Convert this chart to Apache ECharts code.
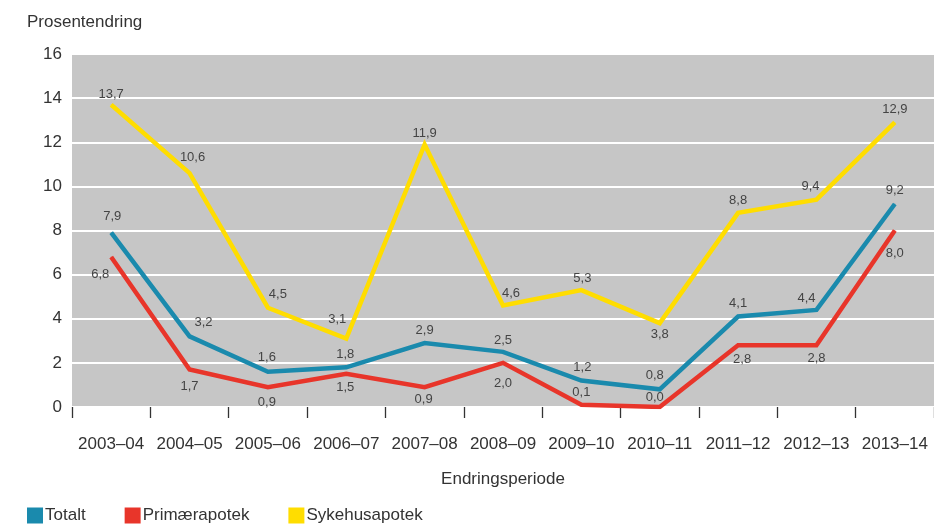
<!DOCTYPE html>
<html>
<head>
<meta charset="utf-8">
<script src="https://cdn.jsdelivr.net/npm/echarts@6/dist/echarts.min.js"></script>
<style>html,body{margin:0;padding:0;background:#fff;}#c{width:934px;height:524px;}</style>
</head>
<body>
<div id="c"></div>
<script>
const categories = ['2003–04','2004–05','2005–06','2006–07','2007–08','2008–09','2009–10','2010–11','2011–12','2012–13','2013–14'];
const totalt = [7.9, 3.2, 1.6, 1.8, 2.9, 2.5, 1.2, 0.8, 4.1, 4.4, 9.2];
const primaer = [6.8, 1.7, 0.9, 1.5, 0.9, 2.0, 0.1, 0.0, 2.8, 2.8, 8.0];
const sykehus = [13.7, 10.6, 4.5, 3.1, 11.9, 4.6, 5.3, 3.8, 8.8, 9.4, 12.9];
const yTicks = [0, 2, 4, 6, 8, 10, 12, 14, 16];

// label offsets (style only)
const offTot = [[1,-16],[14,-14],[-1,-14],[-1,-13],[0,-13],[0,-11],[1,-13],[-5,-14],[0,-13],[-10,-12],[0,-14]];
const offPri = [[-11,17],[0,17],[-1,15],[-1,14],[-1,12],[0,21],[0,-12],[-5,-10],[4,14],[0,13],[0,23]];
const offSyk = [[0,-10],[3,-16],[10,-13],[-9,-19],[0,-11],[8,-12],[1,-12],[0,11],[0,-12],[-6,-13],[0,-13]];

const FONT = 'Liberation Sans';
const fmt = v => v.toFixed(1).replace('.', ',');

function mk(name, arr, offs, color) {
  return {
    name: name, type: 'line', data: arr.map((v, i) => ({
      value: v,
      label: { show: true, position: 'inside', offset: offs[i], formatter: fmt(v),
        color: '#444', fontSize: 13, fontFamily: FONT }
    })),
    symbol: 'circle', symbolSize: 1, showSymbol: true,
    lineStyle: { color: color, width: 4.5, join: 'miter' },
    itemStyle: { color: color },
    emphasis: { disabled: true },
    animation: false, z: 3
  };
}

const chart = echarts.init(document.getElementById('c'), null, { renderer: 'canvas' });
chart.setOption({
  animation: false,
  textStyle: { fontFamily: FONT },
  title: { text: 'Prosentendring', left: 22, top: 9,
    textStyle: { fontSize: 17, fontWeight: 'normal', color: '#333', fontFamily: FONT } },
  grid: { left: 72, right: -2, top: 54, bottom: 117, show: true, backgroundColor: '#c6c6c6', borderWidth: 0 },
  legend: {
    left: 22, top: 502, itemWidth: 16, itemHeight: 16, itemGap: 39, icon: 'rect',
    textStyle: { fontSize: 17, color: '#333', fontFamily: FONT, padding: [0,0,0,-3] },
    data: ['Totalt', 'Primærapotek', 'Sykehusapotek'], selectedMode: false
  },
  xAxis: {
    type: 'category', data: categories, boundaryGap: true,
    name: 'Endringsperiode', nameLocation: 'middle', nameGap: 64,
    nameTextStyle: { fontSize: 17, color: '#333', fontFamily: FONT },
    axisLine: { show: false },
    axisTick: { show: true, length: 11, interval: 0, lineStyle: { color: '#333', width: 1.3 } },
    axisLabel: { margin: 29, interval: 0, fontSize: 17, color: '#333', fontFamily: FONT, hideOverlap: false },
    splitLine: { show: false }
  },
  yAxis: {
    type: 'value', min: yTicks[0], max: yTicks[yTicks.length - 1], interval: 2,
    axisLine: { show: false }, axisTick: { show: false },
    axisLabel: { margin: 10, fontSize: 17, color: '#333', fontFamily: FONT },
    splitLine: { show: true, lineStyle: { color: '#ffffff', width: 2 } }
  },
  series: [
    mk('Totalt', totalt, offTot, '#1a8aad'),
    mk('Primærapotek', primaer, offPri, '#e8352a'),
    mk('Sykehusapotek', sykehus, offSyk, '#ffdd00')
  ]
});
</script>
</body>
</html>
